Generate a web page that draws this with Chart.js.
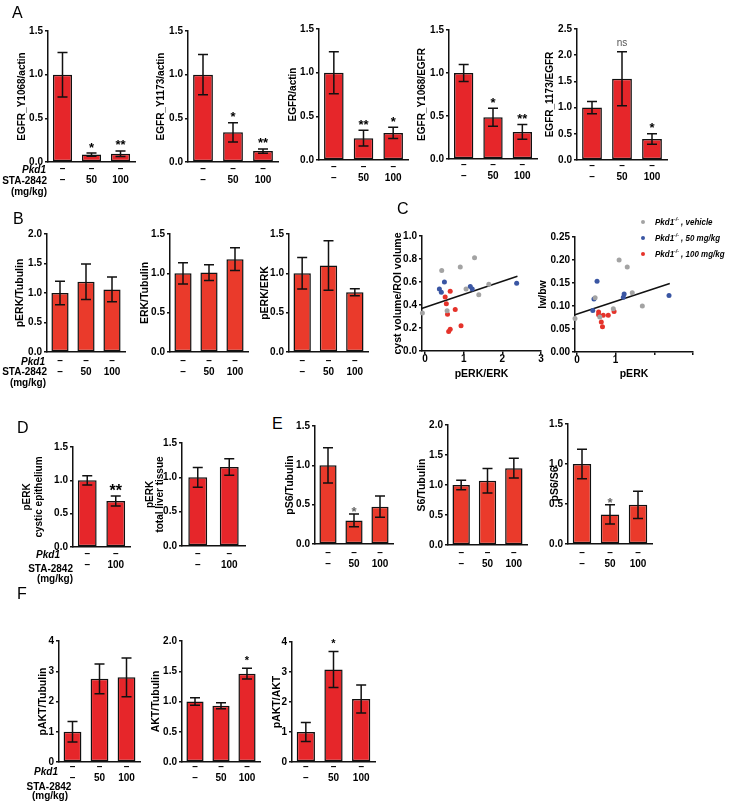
<!DOCTYPE html>
<html>
<head>
<meta charset="utf-8">
<script src="https://cdn.jsdelivr.net/npm/chart.js@4.4.0/dist/chart.umd.min.js"></script>
<style>
  html, body { margin: 0; padding: 0; background: #fff; }
  body { position: relative; width: 729px; height: 804px; overflow: hidden;
         font-family: "Liberation Sans", Arial, Helvetica, sans-serif; }
  canvas { position: absolute; }
  .lbl { position: absolute; font-size: 10px; line-height: 12px; font-weight: bold; white-space: nowrap; color: #000; }
  .tag { position: absolute; font-size: 16px; line-height: 16px; color: #000; }
  .dot { position: absolute; width: 4px; height: 4px; border-radius: 50%; }
  .leg { position: absolute; font-size: 9.5px; line-height: 12px; font-weight: bold; font-style: italic; white-space: nowrap;
         transform: scaleX(0.84); transform-origin: left center; }
  .leg sup { font-size: 6px; vertical-align: 4px; line-height: 0; }
</style>
</head>
<body>
<script>
// ── data ──────────────────────────────────────────────────────────────────
const doseRows3 = [['–', '–'], ['–', '50'], ['–', '100']];
const doseRows2 = [['–', '–'], ['–', '100']];

// A – EGFR
const egfrY1068Actin     = [1.00, 0.085, 0.095];
const egfrY1068ActinSem  = [0.255, 0.018, 0.032];
const egfrY1068ActinSig  = ['', '*', '**'];
const egfrY1173Actin     = [1.00, 0.34, 0.125];
const egfrY1173ActinSem  = [0.23, 0.11, 0.025];
const egfrY1173ActinSig  = ['', '*', '**'];
const egfrActin          = [1.00, 0.25, 0.31];
const egfrActinSem       = [0.24, 0.09, 0.065];
const egfrActinSig       = ['', '**', '*'];
const egfrY1068Egfr      = [1.00, 0.485, 0.315];
const egfrY1068EgfrSem   = [0.10, 0.105, 0.085];
const egfrY1068EgfrSig   = ['', '*', '**'];
const egfr1173Egfr       = [1.00, 1.55, 0.40];
const egfr1173EgfrSem    = [0.115, 0.515, 0.10];
const egfr1173EgfrSig    = ['', 'ns', '*'];

// B – ERK
const perkTub    = [1.00, 1.19, 1.06];
const perkTubSem = [0.20, 0.30, 0.21];
const erkTub     = [1.00, 1.01, 1.18];
const erkTubSem  = [0.135, 0.10, 0.145];
const perkErk    = [1.00, 1.10, 0.76];
const perkErkSem = [0.20, 0.315, 0.045];

// C – correlations (x = pERK/ERK or pERK, y = cyst volume or lw/bw)
const c1VehX  = [-0.07, 0.43, 0.57, 0.91, 1.28, 1.06, 1.39, 1.65];
const c1VehY  = [0.33, 0.70, 0.35, 0.73, 0.81, 0.54, 0.49, 0.58];
const c1D50X  = [0.37, 0.42, 0.50, 1.17, 1.22, 2.37];
const c1D50Y  = [0.54, 0.51, 0.60, 0.56, 0.54, 0.59];
const c1D100X = [0.52, 0.55, 0.58, 0.65, 0.78, 0.61, 0.65, 0.93];
const c1D100Y = [0.47, 0.41, 0.32, 0.52, 0.36, 0.17, 0.19, 0.22];
const c1FitX  = [-0.09, 2.39];
const c1FitY  = [0.37, 0.65];

const c2VehX  = [-0.05, 0.47, 0.59, 0.94, 1.09, 1.30, 1.43, 1.69];
const c2VehY  = [0.073, 0.118, 0.076, 0.094, 0.200, 0.185, 0.129, 0.100];
const c2D50X  = [0.41, 0.44, 0.52, 1.20, 1.22, 2.38];
const c2D50Y  = [0.090, 0.115, 0.154, 0.119, 0.126, 0.123];
const c2D100X = [0.56, 0.56, 0.63, 0.66, 0.68, 0.81, 0.96];
const c2D100Y = [0.087, 0.081, 0.065, 0.055, 0.080, 0.080, 0.088];
const c2FitX  = [-0.05, 2.40];
const c2FitY  = [0.081, 0.149];

// D – pERK by tissue
const perkCyst     = [1.00, 0.69];
const perkCystSem  = [0.07, 0.075];
const perkCystSig  = ['', '**'];
const perkLiver    = [1.00, 1.15];
const perkLiverSem = [0.145, 0.12];

// E – S6
const ps6Tub     = [1.00, 0.30, 0.475];
const ps6TubSem  = [0.225, 0.08, 0.135];
const ps6TubSig  = ['', '*', ''];
const s6Tub      = [1.00, 1.07, 1.28];
const s6TubSem   = [0.08, 0.205, 0.165];
const ps6S6      = [1.00, 0.37, 0.49];
const ps6S6Sem   = [0.185, 0.12, 0.17];
const ps6S6Sig   = ['', '*', ''];

// F – AKT
const paktTub    = [1.00, 2.75, 2.80];
const paktTubSem = [0.34, 0.49, 0.64];
const aktTub     = [1.00, 0.93, 1.46];
const aktTubSem  = [0.06, 0.05, 0.09];
const aktTubSig  = ['', '', '*'];
const paktAkt    = [1.00, 3.08, 2.10];
const paktAktSem = [0.32, 0.60, 0.47];
const paktAktSig = ['', '*', ''];

// ── setup ─────────────────────────────────────────────────────────────────
const FONT = '"Liberation Sans", Arial, Helvetica, sans-serif';
Chart.defaults.font.family = FONT;
Chart.defaults.color = '#000';

const RED    = '#e6262a';
const ORANGE = '#ea3a2b';

// error bars + significance marks, drawn through the y scale
const errPlugin = {
  id: 'errbars',
  afterDatasetsDraw(chart) {
    const ctx = chart.ctx, ys = chart.scales.y;
    chart.data.datasets.forEach((ds, i) => {
      if (!ds.sem) return;
      chart.getDatasetMeta(i).data.forEach((bar, j) => {
        const x = bar.x;
        const yl = ys.getPixelForValue(ds.data[j] - ds.sem[j]);
        const yh = ys.getPixelForValue(ds.data[j] + ds.sem[j]);
        ctx.save();
        ctx.strokeStyle = '#111';
        ctx.lineWidth = 1.5;
        ctx.beginPath();
        ctx.moveTo(x, yl); ctx.lineTo(x, yh);
        ctx.moveTo(x - 5, yl); ctx.lineTo(x + 5, yl);
        ctx.moveTo(x - 5, yh); ctx.lineTo(x + 5, yh);
        ctx.stroke();
        const s = ds.sig && ds.sig[j];
        if (s) {
          ctx.textAlign = 'center';
          ctx.textBaseline = 'alphabetic';
          if (s === 'ns') {
            ctx.font = '10px ' + FONT;
            ctx.fillStyle = '#555';
            ctx.fillText(s, x, yh - 6);
          } else {
            ctx.font = ds.sigFont + ' ' + FONT;
            ctx.fillStyle = ds.sigColor;
            ctx.fillText(s, x, yh + ds.sigDy);
          }
        }
        ctx.restore();
      });
    });
  }
};

function addCanvas(left, top, w, h) {
  const c = document.createElement('canvas');
  c.width = w; c.height = h;
  c.style.left = left + 'px';
  c.style.top = top + 'px';
  document.body.appendChild(c);
  return c;
}

function barPanel(o) {
  const T = 8, R = 5, B = 30;
  const tSize = o.tSize || 10.5;
  const tLh = o.tLh || 1.2;
  const left = Math.round(o.titleX - tSize * tLh / 2);
  const L = o.x0 - left;
  const w = L + (o.x1 - o.x0) + R;
  const h = T + (o.y1 - o.y0) + B;
  const c = addCanvas(left, o.y0 - T, w, h);
  new Chart(c, {
    type: 'bar',
    data: {
      labels: o.labels,
      datasets: [{
        data: o.values, sem: o.sem, sig: o.sig,
        sigFont: o.sigFont || 'bold 13px', sigColor: o.sigColor || '#000', sigDy: o.sigDy ?? -1.5,
        backgroundColor: o.color || RED, borderColor: '#111', borderWidth: 1.5, borderSkipped: false,
        barPercentage: o.bp || 0.66, categoryPercentage: 1
      }]
    },
    options: {
      responsive: false, animation: false, devicePixelRatio: 1,
      layout: { padding: { top: T, right: R, left: 0, bottom: 0 } },
      plugins: { legend: { display: false }, tooltip: { enabled: false } },
      scales: {
        x: {
          grid: { display: false, drawTicks: false },
          border: { display: true, color: '#111', width: 1.5 },
          ticks: { color: '#000', font: { size: 10, weight: 'bold', lineHeight: 1.1 },
                   padding: o.pad ?? 1.5, autoSkip: false, maxRotation: 0 },
          afterFit: s => { s.height = B; }
        },
        y: {
          min: 0, max: o.max,
          ticks: { stepSize: o.step || 0.5, color: '#000', padding: 2,
                   font: { size: 10, weight: 'bold' },
                   callback: v => v.toFixed(o.dec ?? 1) },
          grid: { drawOnChartArea: false, tickLength: 3, color: '#111', lineWidth: 1.5 },
          border: { color: '#111', width: 1.5 },
          title: { display: true, text: o.title, color: '#000',
                   font: { size: tSize, weight: 'bold', lineHeight: tLh }, padding: { top: 0, bottom: 0 } },
          afterFit: s => { s.width = L; }
        }
      }
    },
    plugins: [errPlugin]
  });
}

function pts(xs, ys) { return xs.map((x, i) => ({ x, y: ys[i] })); }

function scatterPanel(o) {
  const T = 8, R = 6;
  const left = Math.round(o.titleX - 6.3);
  const L = o.x0 - left;
  const B = Math.round(o.xTitleY + 6.3) - o.y1;
  const w = L + (o.x1 - o.x0) + R;
  const h = T + (o.y1 - o.y0) + B;
  const c = addCanvas(left, o.y0 - T, w, h);
  const grp = (d, col) => ({ data: d, backgroundColor: col, pointRadius: 2.5, borderWidth: 0, clip: false });
  new Chart(c, {
    type: 'scatter',
    data: {
      datasets: [
        grp(o.veh, '#a3a3a3'), grp(o.d50, '#3a56a3'), grp(o.d100, '#e5322a'),
        { data: o.fit, showLine: true, borderColor: '#111', borderWidth: 1.5, pointRadius: 0, clip: false }
      ]
    },
    options: {
      responsive: false, animation: false, devicePixelRatio: 1,
      layout: { padding: { top: T, right: R, left: 0, bottom: 0 } },
      plugins: { legend: { display: false }, tooltip: { enabled: false } },
      scales: {
        x: {
          type: 'linear', min: o.xmin, max: 3,
          ticks: { stepSize: 1, includeBounds: false, color: '#000', padding: 0,
                   font: { size: 10, weight: 'bold', lineHeight: 1 },
                   callback: v => o.xShow.includes(v) ? String(v) : '' },
          grid: { drawOnChartArea: false, tickLength: 3, color: '#111', lineWidth: 1.5 },
          border: { color: '#111', width: 1.5 },
          title: { display: true, text: o.xTitle, color: '#000',
                   font: { size: 10.5, weight: 'bold', lineHeight: 1.2 }, padding: { top: 0, bottom: 0 } },
          afterFit: s => { s.height = B; }
        },
        y: {
          min: 0, max: o.ymax,
          ticks: { stepSize: o.ystep, color: '#000', padding: 2,
                   font: { size: 10, weight: 'bold' },
                   callback: v => v.toFixed(o.ydec) },
          grid: { drawOnChartArea: false, tickLength: 3, color: '#111', lineWidth: 1.5 },
          border: { color: '#111', width: 1.5 },
          title: { display: true, text: o.yTitle, color: '#000',
                   font: { size: 10.5, weight: 'bold', lineHeight: 1.2 }, padding: { top: 0, bottom: 0 } },
          afterFit: s => { s.width = L; }
        }
      }
    }
  });
}

function lbl(html, x, y, align) {
  const d = document.createElement('div');
  d.className = 'lbl';
  d.innerHTML = html;
  d.style.top = (y - 6) + 'px';
  if (align === 'right') d.style.right = (729 - x) + 'px';
  else if (align === 'center') { d.style.left = x + 'px'; d.style.transform = 'translateX(-50%)'; }
  else d.style.left = x + 'px';
  document.body.appendChild(d);
}

function tag(t, x, y) {
  const d = document.createElement('div');
  d.className = 'tag';
  d.textContent = t;
  d.style.left = x + 'px';
  d.style.top = y + 'px';
  document.body.appendChild(d);
}

// ── A ─────────────────────────────────────────────────────────────────────
barPanel({ x0: 48,  x1: 135, y0: 31, y1: 162, titleX: 22,  tSize: 10, title: 'EGFR_Y1068/actin',
           labels: doseRows3, values: egfrY1068Actin, sem: egfrY1068ActinSem, sig: egfrY1068ActinSig, max: 1.5 });
barPanel({ x0: 188, x1: 278, y0: 31, y1: 162, titleX: 161, tSize: 10, title: 'EGFR_Y1173/actin',
           labels: doseRows3, values: egfrY1173Actin, sem: egfrY1173ActinSem, sig: egfrY1173ActinSig, max: 1.5 });
barPanel({ x0: 319, x1: 408, y0: 29, y1: 160, titleX: 293, tSize: 10, title: 'EGFR/actin',
           labels: doseRows3, values: egfrActin, sem: egfrActinSem, sig: egfrActinSig, max: 1.5 });
barPanel({ x0: 449, x1: 537, y0: 30, y1: 159, titleX: 422, tSize: 10, title: 'EGFR_Y1068/EGFR', pad: 0.5,
           labels: doseRows3, values: egfrY1068Egfr, sem: egfrY1068EgfrSem, sig: egfrY1068EgfrSig, max: 1.5 });
barPanel({ x0: 577, x1: 667, y0: 29, y1: 160, titleX: 550, tSize: 10, title: 'EGFR_1173/EGFR', pad: 0.5,
           labels: doseRows3, values: egfr1173Egfr, sem: egfr1173EgfrSem, sig: egfr1173EgfrSig, max: 2.5 });

// ── B ─────────────────────────────────────────────────────────────────────
barPanel({ x0: 47,  x1: 125, y0: 234, y1: 352, titleX: 20,  title: 'pERK/Tubulin', pad: 3.5, color: ORANGE,
           labels: doseRows3, values: perkTub, sem: perkTubSem, max: 2 });
barPanel({ x0: 170, x1: 248, y0: 234, y1: 352, titleX: 145, title: 'ERK/Tubulin', pad: 3.5, color: ORANGE,
           labels: doseRows3, values: erkTub, sem: erkTubSem, max: 1.5 });
barPanel({ x0: 289, x1: 368, y0: 234, y1: 352, titleX: 265, title: 'pERK/ERK', pad: 3.5, color: ORANGE,
           labels: doseRows3, values: perkErk, sem: perkErkSem, max: 1.5 });

// ── C ─────────────────────────────────────────────────────────────────────
scatterPanel({ x0: 422, x1: 541, y0: 236, y1: 351, xmin: -0.08, xShow: [0, 1, 2, 3],
               ymax: 1.0, ystep: 0.2, ydec: 1, titleX: 398, yTitle: 'cyst volume/ROI volume',
               xTitle: 'pERK/ERK', xTitleY: 374,
               veh: pts(c1VehX, c1VehY), d50: pts(c1D50X, c1D50Y), d100: pts(c1D100X, c1D100Y),
               fit: pts(c1FitX, c1FitY) });
scatterPanel({ x0: 575, x1: 693, y0: 237, y1: 352, xmin: -0.05, xShow: [0, 1],
               ymax: 0.25, ystep: 0.05, ydec: 2, titleX: 543, yTitle: 'lw/bw',
               xTitle: 'pERK', xTitleY: 374,
               veh: pts(c2VehX, c2VehY), d50: pts(c2D50X, c2D50Y), d100: pts(c2D100X, c2D100Y),
               fit: pts(c2FitX, c2FitY) });

// ── D ─────────────────────────────────────────────────────────────────────
barPanel({ x0: 73,  x1: 130, y0: 447, y1: 547, titleX: 27, tSize: 10, title: ['pERK', 'cystic epithelium'],
           labels: doseRows2, values: perkCyst, sem: perkCystSem, sig: perkCystSig, max: 1.5,
           sigFont: 'bold 16px', sigDy: 0, pad: 1.5 });
barPanel({ x0: 182, x1: 245, y0: 443, y1: 546, titleX: 150, tSize: 10, tLh: 1.0, title: ['pERK', 'total liver tissue'],
           labels: doseRows2, values: perkLiver, sem: perkLiverSem, max: 1.5, bp: 0.6, pad: 2.5 });

// ── E ─────────────────────────────────────────────────────────────────────
barPanel({ x0: 315, x1: 393, y0: 426, y1: 544, titleX: 290, title: 'pS6/Tubulin', pad: 3.5, color: ORANGE,
           labels: doseRows3, values: ps6Tub, sem: ps6TubSem, sig: ps6TubSig, max: 1.5,
           sigFont: 'bold 13px', sigColor: '#666', sigDy: 2 });
barPanel({ x0: 448, x1: 527, y0: 425, y1: 545, titleX: 422, title: 'S6/Tubulin', pad: 3, color: ORANGE,
           labels: doseRows3, values: s6Tub, sem: s6TubSem, max: 2 });
barPanel({ x0: 568, x1: 652, y0: 424, y1: 544, titleX: 555, title: 'pS6/S6', pad: 3.5, color: ORANGE,
           labels: doseRows3, values: ps6S6, sem: ps6S6Sem, sig: ps6S6Sig, max: 1.5,
           sigFont: 'bold 13px', sigColor: '#666', sigDy: 2 });

// ── F ─────────────────────────────────────────────────────────────────────
barPanel({ x0: 59,  x1: 140, y0: 641, y1: 762, titleX: 43,  title: 'pAKT/Tubulin', pad: 0,
           labels: doseRows3, values: paktTub, sem: paktTubSem, max: 4, step: 1, dec: 0 });
barPanel({ x0: 182, x1: 260, y0: 641, y1: 762, titleX: 156, title: 'AKT/Tubulin', pad: 0,
           labels: doseRows3, values: aktTub, sem: aktTubSem, sig: aktTubSig, max: 2,
           sigFont: 'bold 11px', sigDy: -4.5 });
barPanel({ x0: 292, x1: 375, y0: 642, y1: 762, titleX: 277, title: 'pAKT/AKT', pad: 0,
           labels: doseRows3, values: paktAkt, sem: paktAktSem, sig: paktAktSig, max: 4, step: 1, dec: 0,
           sigFont: 'bold 11px', sigDy: -4.5 });

// ── row captions ──────────────────────────────────────────────────────────
lbl('<i>Pkd1</i>', 46, 170, 'right');  lbl('STA-2842', 47, 181, 'right');  lbl('(mg/kg)', 47, 192, 'right');
lbl('<i>Pkd1</i>', 45, 362, 'right');  lbl('STA-2842', 47, 372, 'right');  lbl('(mg/kg)', 46, 383, 'right');
lbl('<i>Pkd1</i>', 60, 555, 'right');  lbl('STA-2842', 73, 569, 'right');  lbl('(mg/kg)', 73, 579, 'right');
lbl('<i>Pkd1</i>', 58, 772, 'right');  lbl('STA-2842', 49, 787, 'center'); lbl('(mg/kg)', 50, 796, 'center');

// ── C legend ──────────────────────────────────────────────────────────────
[['#a3a3a3', 'vehicle', 222], ['#3a56a3', '50 mg/kg', 238], ['#e5322a', '100 mg/kg', 254]].forEach(([col, txt, y]) => {
  const d = document.createElement('div');
  d.className = 'dot';
  d.style.background = col;
  d.style.left = '641px';
  d.style.top = (y - 2) + 'px';
  document.body.appendChild(d);
  const t = document.createElement('div');
  t.className = 'leg';
  t.innerHTML = 'Pkd1<sup>-/-</sup> , ' + txt;
  t.style.left = '655px';
  t.style.top = (y - 6) + 'px';
  document.body.appendChild(t);
});

// ── panel letters ─────────────────────────────────────────────────────────
tag('A', 12, 5);  tag('B', 13, 211); tag('C', 397, 201);
tag('D', 17, 420); tag('E', 272, 416); tag('F', 17, 586);
</script>
</body>
</html>
